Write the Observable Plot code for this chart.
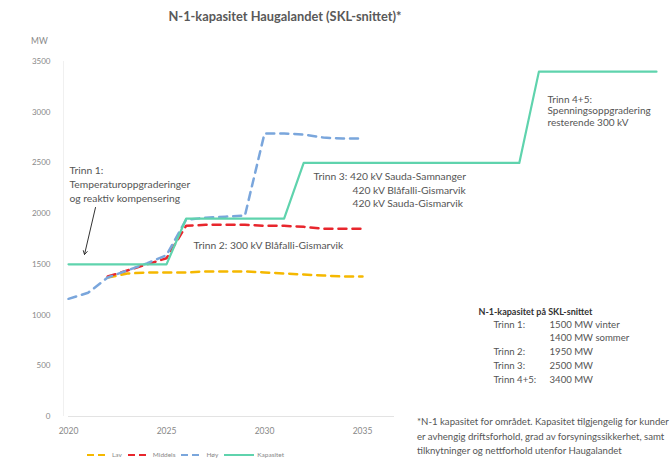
<!DOCTYPE html>
<html>
<head>
<meta charset="utf-8">
<script src="https://cdn.jsdelivr.net/npm/d3@7"></script>
<script src="https://cdn.jsdelivr.net/npm/@observablehq/plot@0.6"></script>
<style>
  html, body { margin: 0; padding: 0; background: #fff; }
  #wrap { position: relative; width: 671px; height: 464px; overflow: hidden; font-family: Lato, "Open Sans", sans-serif; }
  #title { position: absolute; top: 8px; left: 85px; width: 400px; text-align: center; font-size: 12.8px; font-weight: bold; color: #595959; }
  #mw { position: absolute; top: 36px; left: 31px; font-size: 8.5px; color: #888; }
  #chart { position: absolute; top: 0; left: 0; }
  #foot { position: absolute; left: 394px; top: 414px; width: 300px; padding-left: 23px; padding-top: 1px; background: #fff; font-size: 9.6px; line-height: 14.5px; color: #555; white-space: nowrap; }
  #legend { position: absolute; top: 451px; left: 87px; display: flex; align-items: center; font-size: 6.5px; color: #888; }
  #legend .item { display: flex; align-items: center; margin-right: 6px; }
  #legend svg { margin-right: 3px; }
</style>
</head>
<body>
<div id="wrap">
  <div id="title">N-1-kapasitet Haugalandet (SKL-snittet)*</div>
  <div id="mw">MW</div>
  <div id="chart"></div>
  <div id="foot">*N-1 kapasitet for området. Kapasitet tilgjengelig for kunder<br>er avhengig driftsforhold, grad av forsyningssikkerhet, samt<br>tilknytninger og nettforhold utenfor Haugalandet</div>
  <div id="legend"></div>
</div>
<script>
// ---- data ----
const years = [2020,2021,2022,2023,2024,2025,2026,2027,2028,2029,2030,2031,2032,2033,2034,2035];
const hoy = [1160,1220,1370,1440,1510,1590,1940,1960,1970,1980,2790,2790,2780,2750,2740,2740];
const scenYears = [2022,2023,2024,2025,2026,2027,2028,2029,2030,2031,2032,2033,2034,2035];
const middels = [1380,1440,1500,1560,1880,1890,1890,1890,1880,1880,1870,1850,1850,1850];
const lav = [1370,1410,1420,1420,1420,1430,1430,1430,1420,1410,1400,1390,1380,1380];
const kapYears = [2020,2025,2026,2031,2032,2043,2044,2050];
const kapasitet = [1500,1500,1950,1950,2500,2500,3400,3400];
const xTicks = [2020,2025,2030,2035];
const yTicks = [0,500,1000,1500,2000,2500,3000,3500];
const seriesNames = ["Lav","Middels","Høy","Kapasitet"];
const seriesColors = ["#f5b800","#e8262d","#7aa6dc","#5fd3ad"];

const trinn1 = "Trinn 1:\nTemperaturoppgraderinger\nog reaktiv kompensering";
const trinn2 = "Trinn 2: 300 kV Blåfalli-Gismarvik";
const trinn3a = "Trinn 3: 420 kV Sauda-Samnanger";
const trinn3b = "420 kV Blåfalli-Gismarvik\n420 kV Sauda-Gismarvik";
const trinn45 = "Trinn 4+5:\nSpenningsoppgradering\nresterende 300 kV";
const boxTitle = "N-1-kapasitet på SKL-snittet";
const boxLabels = ["Trinn 1:","","Trinn 2:","Trinn 3:","Trinn 4+5:"];
const boxValues = ["1500 MW vinter","1400 MW sommer","1950 MW","2500 MW","3400 MW"];

// ---- tables ----
const tbl = (xs, ys, name) => xs.map((x, i) => ({year: x, value: ys[i], name}));
const dLav = tbl(scenYears, lav, "Lav");
const dMid = tbl(scenYears, middels, "Middels");
const dHoy = tbl(years, hoy, "Høy");
const dKap = tbl(kapYears, kapasitet, "Kapasitet");

// pixel helpers -> data units for annotation placement
const px2year = px => 2020 + (px - 68) / ((656 - 68) / 30);
const px2val = py => (416 - py) / ((416 - 61) / 3500);

const boxRows = boxValues.map((v, i) => ({label: boxLabels[i], value: v, py: 324 + i * 13.9}));

const txt = {fontFamily: "Lato, 'Open Sans', sans-serif", fill: "#555", textAnchor: "start"};

const chart = Plot.plot({
  width: 671,
  height: 440,
  marginLeft: 68,
  marginRight: 15,
  marginTop: 61,
  marginBottom: 24,
  style: {fontFamily: "Lato, 'Open Sans', sans-serif", background: "transparent"},
  x: {domain: [2020, 2050], label: null},
  y: {domain: [0, 3500], label: null},
  marks: [
    Plot.ruleX([2020], {x: d => px2year(63), stroke: "#f0f0f0", strokeWidth: 1}),
    Plot.ruleY([0], {stroke: "#e3e3e3", strokeWidth: 1.2}),
    Plot.axisX({ticks: xTicks, tickFormat: d => String(d), tickSize: 0, tickPadding: 11, fontSize: 8.5, fill: "#888", label: null}),
    Plot.axisY({ticks: yTicks, tickFormat: d => String(d), tickSize: 0, tickPadding: 18, fontSize: 8, fill: "#888", label: null}),
    Plot.line(dLav, {x: "year", y: "value", stroke: seriesColors[0], strokeWidth: 2.5, strokeDasharray: "8,6"}),
    Plot.line(dMid, {x: "year", y: "value", stroke: seriesColors[1], strokeWidth: 2.5, strokeDasharray: "8,6"}),
    Plot.line(dHoy, {x: "year", y: "value", stroke: seriesColors[2], strokeWidth: 2.5, strokeDasharray: "8,6"}),
    Plot.line(dKap, {x: "year", y: "value", stroke: seriesColors[3], strokeWidth: 2.2}),
    Plot.arrow([{}], {x1: px2year(95), y1: px2val(207), x2: px2year(84), y2: px2val(254), stroke: "#333", strokeWidth: 1, headLength: 6}),
    Plot.text([trinn1], {...txt, x: px2year(69), y: px2val(163), text: d => d, fontSize: 10.3, lineAnchor: "top", lineHeight: 1.38}),
    Plot.text([trinn2], {...txt, x: px2year(193), y: px2val(245), text: d => d, fontSize: 10.3}),
    Plot.text([trinn3a], {...txt, x: px2year(313), y: px2val(176), text: d => d, fontSize: 10.3}),
    Plot.text([trinn3b], {...txt, x: px2year(352), y: px2val(184), text: d => d, fontSize: 10.3, lineAnchor: "top", lineHeight: 1.27}),
    Plot.text([trinn45], {...txt, x: px2year(547), y: px2val(94), text: d => d, fontSize: 10, lineAnchor: "top", lineHeight: 1.15}),
    Plot.text([boxTitle], {...txt, x: px2year(478), y: px2val(312), text: d => d, fontSize: 9, fontWeight: "bold", fill: "#333"}),
    Plot.text(boxRows, {...txt, x: px2year(493), y: d => px2val(d.py), text: "label", fontSize: 9.6}),
    Plot.text(boxRows, {...txt, x: px2year(549), y: d => px2val(d.py), text: "value", fontSize: 9.6})
  ]
});
document.getElementById("chart").appendChild(chart);

// legend
const leg = document.getElementById("legend");
seriesNames.forEach((n, i) => {
  const it = document.createElement("div");
  it.className = "item";
  const dash = i < 3 ? 'stroke-dasharray="7,4"' : "";
  const w = i < 3 ? 22 : 30;
  it.innerHTML = `<svg width="${w}" height="6"><line x1="0" y1="3" x2="${w}" y2="3" stroke="${seriesColors[i]}" stroke-width="2" ${dash}/></svg><span>${n}</span>`;
  leg.appendChild(it);
});
</script>
</body>
</html>
